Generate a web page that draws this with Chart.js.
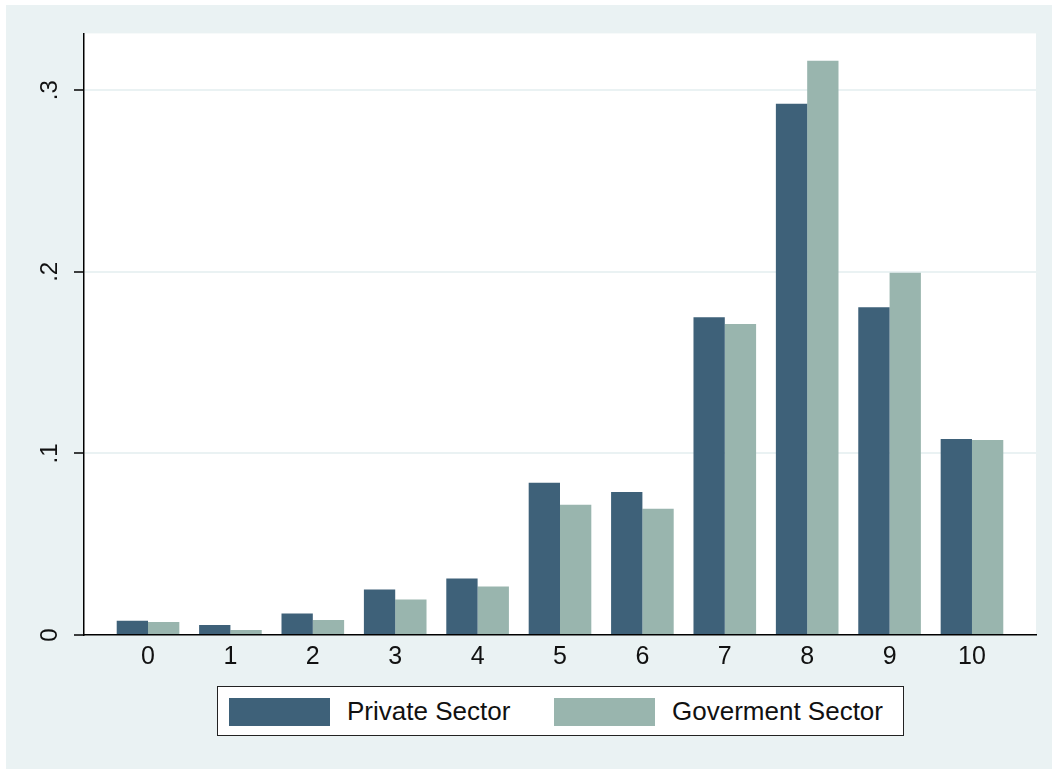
<!DOCTYPE html>
<html>
<head>
<meta charset="utf-8">
<script src="https://cdn.jsdelivr.net/npm/chart.js@4.4.1/dist/chart.umd.min.js"></script>
<style>
  html, body { margin: 0; padding: 0; background: #ffffff; width: 1052px; height: 769px; overflow: hidden; }
  #wrap { position: absolute; left: 6px; top: 5px; width: 1046px; height: 764px; background: #EAF2F3; }
  #c { position: absolute; left: 0; top: 0; }
  #legend { position: absolute; left: 211px; top: 681px; width: 685px; height: 48px; background: #ffffff;
            border: 1.5px solid #222; font-family: "Liberation Sans", Arial, sans-serif; font-size: 26px; color: #111; }
  .sw { position: absolute; top: 11px; width: 101px; height: 28px; }
  .lt { position: absolute; top: 0; line-height: 49px; white-space: nowrap; }
</style>
</head>
<body>
<div id="wrap">
  <canvas id="c" width="1046" height="764"></canvas>
  <div id="legend"></div>
</div>
<script>
// ---- data ----
const categories = [0, 1, 2, 3, 4, 5, 6, 7, 8, 9, 10];
const privateSector = [0.0078, 0.0055, 0.0119, 0.0251, 0.0311, 0.0838, 0.0788, 0.1750, 0.2925, 0.1805, 0.1079];
const govermentSector = [0.0071, 0.0027, 0.0082, 0.0196, 0.0267, 0.0717, 0.0695, 0.1712, 0.3163, 0.1995, 0.1074];
const seriesNames = ["Private Sector", "Goverment Sector"];
const yTickValues = [0, 0.1, 0.2, 0.3];
const yTickLabels = ["0", ".1", ".2", ".3"];
const xTickLabels = ["0", "1", "2", "3", "4", "5", "6", "7", "8", "9", "10"];

const colPrivate = "#3E6179";
const colGov = "#99B5AE";
const bgColor = "#EAF2F3";
const FONT = "'Liberation Sans', Arial, sans-serif";

// HTML legend
const legend = document.getElementById('legend');
const legendItems = [
  { name: seriesNames[0], color: colPrivate, sw: 11, tx: 129 },
  { name: seriesNames[1], color: colGov, sw: 336, tx: 454 }
];
legendItems.forEach(it => {
  const s = document.createElement('div'); s.className = 'sw'; s.style.left = it.sw + 'px'; s.style.background = it.color; legend.appendChild(s);
  const t = document.createElement('div'); t.className = 'lt'; t.style.left = it.tx + 'px'; t.textContent = it.name; legend.appendChild(t);
});

const bgPlugin = {
  id: 'bg',
  beforeDraw(chart) {
    const { ctx, chartArea: a } = chart;
    ctx.save();
    ctx.fillStyle = bgColor;
    ctx.fillRect(0, 0, chart.width, chart.height);
    ctx.fillStyle = '#ffffff';
    ctx.fillRect(a.left, a.top, a.right - a.left, a.bottom - a.top);
    ctx.restore();
  }
};

new Chart(document.getElementById('c'), {
  type: 'bar',
  data: {
    datasets: [
      { label: seriesNames[0], data: categories.map((c, i) => ({ x: c, y: privateSector[i] })), backgroundColor: colPrivate, borderWidth: 0 },
      { label: seriesNames[1], data: categories.map((c, i) => ({ x: c, y: govermentSector[i] })), backgroundColor: colGov, borderWidth: 0 }
    ]
  },
  options: {
    responsive: false,
    animation: false,
    devicePixelRatio: 1,
    layout: { padding: { left: 0, top: 26, right: 16, bottom: 94 } },
    datasets: { bar: { categoryPercentage: 0.76, barPercentage: 1.0 } },
    plugins: { legend: { display: false }, tooltip: { enabled: false } },
    scales: {
      x: {
        type: 'linear',
        min: -0.777,
        max: 10.777,
        offset: false,
        grid: { display: false, drawTicks: false },
        border: { display: true, color: '#000', width: 1.5 },
        afterBuildTicks(scale) { scale.ticks = categories.map(v => ({ value: v })); },
        afterFit(scale) { scale.height = 40; },
        ticks: {
          autoSkip: false,
          maxRotation: 0,
          minRotation: 0,
          padding: 7,
          color: '#111',
          font: { family: FONT, size: 25 },
          callback: (v) => xTickLabels[categories.indexOf(v)]
        }
      },
      y: {
        min: 0,
        max: 0.3313,
        grid: { color: bgColor, lineWidth: 2, drawTicks: true, tickLength: 10, tickColor: '#000', tickWidth: 1.5 },
        border: { display: true, color: '#000', width: 1.5 },
        afterBuildTicks(scale) { scale.ticks = yTickValues.map(v => ({ value: v })); },
        afterFit(scale) { scale.width = 78; },
        ticks: {
          autoSkip: false,
          minRotation: 90,
          maxRotation: 90,
          crossAlign: 'center',
          padding: 14,
          color: '#111',
          font: { family: FONT, size: 24 },
          callback: (v) => yTickLabels[yTickValues.indexOf(v)]
        }
      }
    }
  },
  plugins: [bgPlugin]
});
</script>
</body>
</html>
